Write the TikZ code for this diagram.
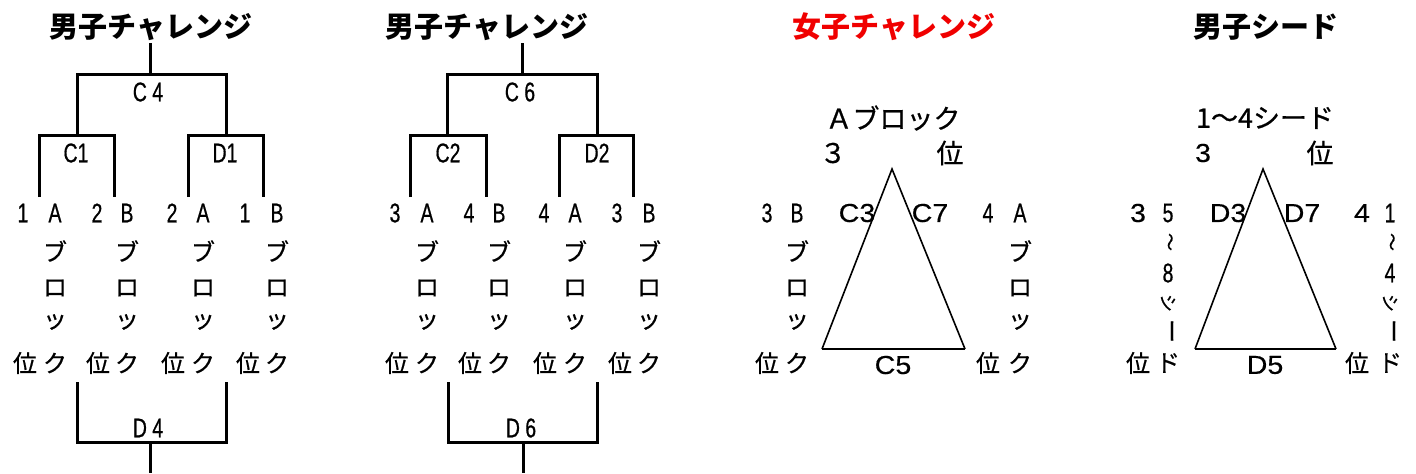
\documentclass[tikz,border=0pt]{standalone}
\usepackage{fontspec}
\setmainfont{Liberation Sans}
\newfontfamily\jpfont[FakeBold=0.6]{Noto Sans CJK JP}
\newfontfamily\jptfont{Noto Sans CJK JP}
\newfontfamily\narfont[FakeStretch=0.72,FakeBold=0.6]{Liberation Sans}
\newfontfamily\latfont[FakeStretch=1.1,FakeBold=0.4]{Liberation Sans}
\definecolor{tred}{RGB}{240,0,0}
\begin{document}
\begin{tikzpicture}[x=0.5pt,y=-0.5pt,
  title/.style={font=\jptfont\bfseries\fontsize{14.5}{16}\selectfont, inner sep=0pt},
  jp/.style={font=\jpfont\fontsize{12}{14}\selectfont, inner sep=0pt},
  jpl/.style={font=\jpfont\fontsize{13.5}{15}\selectfont, inner sep=0pt},
  jps/.style={font=\jpfont\fontsize{9}{11}\selectfont, inner sep=0pt},
  nar/.style={font=\narfont\fontsize{13.5}{15}\selectfont, inner sep=0pt},
  lat/.style={font=\latfont\fontsize{13}{15}\selectfont, inner sep=0pt},
  br/.style={line width=1.5pt},
  tri/.style={line width=0.8pt},
  base/.style={line width=1.1pt}]
\useasboundingbox (0,0) rectangle (1416,473);

% ---------- Panel A ----------
\node[title] (ta) at (151,27) {男子チャレンジ};
\coordinate (a-top) at (150,43);
\coordinate (a-c4) at (150,74);
\coordinate (a-c1) at (77,135);
\coordinate (a-d1) at (226,135);
\coordinate (a-l1) at (39,197);
\coordinate (a-l2) at (114,197);
\coordinate (a-l3) at (188,197);
\coordinate (a-l4) at (263,197);
\draw[br] (a-top) -- (a-c4);
\draw[br] (a-c1) |- (a-c4) -| (a-d1);
\draw[br] (a-l1) |- (a-c1) -| (a-l2);
\draw[br] (a-l3) |- (a-d1) -| (a-l4);
\coordinate (a-d4l) at (77,382);
\coordinate (a-d4) at (150,442);
\coordinate (a-d4r) at (226,382);
\coordinate (a-bot) at (150,473);
\draw[br] (a-d4l) |- (a-d4) -| (a-d4r);
\draw[br] (a-d4) -- (a-bot);
\node[nar] (a-lc4) at (148,92) {C 4};
\node[nar] (a-lc1) at (76,153) {C1};
\node[nar] (a-ld1) at (225,153) {D1};
\node[nar] (a-ld4) at (148,428) {D 4};
\foreach \x/\c [count=\i] in {23/1,55/A,97/2,127/B,172/2,203/A,245/1,277/B}
  \node[nar] (a-r\i) at (\x,213) {\c};
\foreach \x [count=\i] in {55,127,203,277} {
  \node[jp] (a-bu\i) at (\x,251) {ブ};
  \node[jp] (a-ro\i) at (\x,288) {ロ};
  \node[jp] (a-tu\i) at (\x,322) {ッ};
  \node[jp] (a-ku\i) at (\x,363) {ク};
}
\foreach \x [count=\i] in {25,98,173,248}
  \node[jp] (a-i\i) at (\x,363) {位};

% ---------- Panel B ----------
\node[title] (tb) at (487,27) {男子チャレンジ};
\coordinate (b-top) at (522,43);
\coordinate (b-c6) at (522,74);
\coordinate (b-c2) at (447,135);
\coordinate (b-d2) at (597,135);
\coordinate (b-l1) at (410,197);
\coordinate (b-l2) at (486,197);
\coordinate (b-l3) at (559,197);
\coordinate (b-l4) at (633,197);
\draw[br] (b-top) -- (b-c6);
\draw[br] (b-c2) |- (b-c6) -| (b-d2);
\draw[br] (b-l1) |- (b-c2) -| (b-l2);
\draw[br] (b-l3) |- (b-d2) -| (b-l4);
\coordinate (b-d6l) at (448,382);
\coordinate (b-d6) at (523,442);
\coordinate (b-d6r) at (597,382);
\coordinate (b-bot) at (523,473);
\draw[br] (b-d6l) |- (b-d6) -| (b-d6r);
\draw[br] (b-d6) -- (b-bot);
\node[nar] (b-lc6) at (520,92) {C 6};
\node[nar] (b-lc2) at (448,153) {C2};
\node[nar] (b-ld2) at (597,153) {D2};
\node[nar] (b-ld6) at (521,428) {D 6};
\foreach \x/\c [count=\i] in {395/3,427/A,469/4,499/B,544/4,575/A,617/3,649/B}
  \node[nar] (b-r\i) at (\x,213) {\c};
\foreach \x [count=\i] in {427,499,575,649} {
  \node[jp] (b-bu\i) at (\x,251) {ブ};
  \node[jp] (b-ro\i) at (\x,288) {ロ};
  \node[jp] (b-tu\i) at (\x,322) {ッ};
  \node[jp] (b-ku\i) at (\x,363) {ク};
}
\foreach \x [count=\i] in {397,470,545,620}
  \node[jp] (b-i\i) at (\x,363) {位};

% ---------- Panel C ----------
\node[title, text=tred] (tc) at (894,27) {女子チャレンジ};
\node[jpl] (c-hd) at (893,118) {Ａブロック};
\node[jpl] (c-3) at (833,153) {３};
\node[jpl] (c-i) at (950,153) {位};
\coordinate (c-apex) at (892,169);
\coordinate (c-bl) at (822,349);
\coordinate (c-br) at (965,349);
\draw[tri] (c-bl) -- (c-apex) -- (c-br);
\draw[base] (c-bl) -- (c-br);
\node[nar] (c-n3) at (767,213) {3};
\node[nar] (c-nB) at (797,213) {B};
\node[lat] (c-c3) at (857,213) {C3};
\node[lat] (c-c7) at (930,213) {C7};
\node[nar] (c-n4) at (988,213) {4};
\node[nar] (c-nA) at (1020,213) {A};
\foreach \x [count=\i] in {797,1020} {
  \node[jp] (c-bu\i) at (\x,251) {ブ};
  \node[jp] (c-ro\i) at (\x,288) {ロ};
  \node[jp] (c-tu\i) at (\x,322) {ッ};
  \node[jp] (c-ku\i) at (\x,363) {ク};
}
\node[jp] (c-i1) at (767,363) {位};
\node[jp] (c-i2) at (988,363) {位};
\node[lat] (c-c5) at (893,365) {C5};

% ---------- Panel D ----------
\node[title] (td) at (1266,27) {男子シード};
\node[jpl] (d-hd) at (1265,118) {1～4シード};
\node[lat] (d-3) at (1203,153) {3};
\node[jpl] (d-i) at (1320,153) {位};
\coordinate (d-apex) at (1263,169);
\coordinate (d-bl) at (1195,349);
\coordinate (d-br) at (1336,349);
\draw[tri] (d-bl) -- (d-apex) -- (d-br);
\draw[base] (d-bl) -- (d-br);
\node[lat] (d-n3) at (1138,213) {3};
\node[nar] (d-n5) at (1168,213) {5};
\node[lat] (d-d3) at (1228,213) {D3};
\node[lat] (d-d7) at (1302,213) {D7};
\node[lat] (d-n4) at (1362,213) {4};
\node[nar] (d-n1) at (1390,213) {1};
\foreach \x/\n [count=\i] in {1168/8,1390/4} {
  \node[jps] (d-ti\i) at (\x,242) {\rotatebox{-90}{～}};
  \node[nar] (d-m\i) at (\x,273) {\n};
  \node[jps] (d-si\i) at (\x,303) {\rotatebox{-90}{シ}};
  \node[jp] (d-ch\i) at (\x,331) {\rotatebox{-90}{ー}};
  \node[jp] (d-do\i) at (\x,363) {ド};
}
\node[jp] (d-i1) at (1138,363) {位};
\node[jp] (d-i2) at (1357,363) {位};
\node[lat] (d-d5) at (1265,365) {D5};
\end{tikzpicture}
\end{document}
